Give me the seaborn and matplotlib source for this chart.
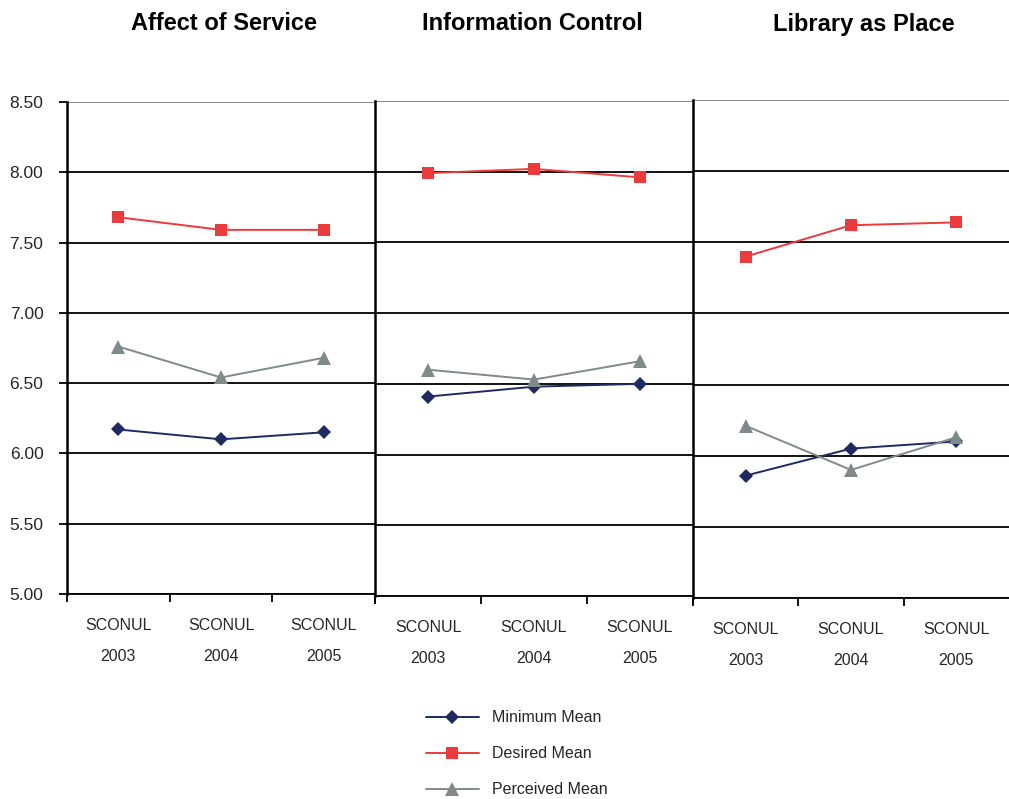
import matplotlib
matplotlib.use('Agg')
import matplotlib.pyplot as plt
import pandas as pd
import seaborn as sns

# chart data
panels = ['Affect of Service', 'Information Control', 'Library as Place']
years = ['SCONUL\n2003', 'SCONUL\n2004', 'SCONUL\n2005']
series = ['Minimum Mean', 'Desired Mean', 'Perceived Mean']

minimum_mean = [[6.17, 6.10, 6.15], [6.41, 6.48, 6.50], [5.86, 6.05, 6.10]]
desired_mean = [[7.68, 7.59, 7.59], [7.99, 8.02, 7.96], [7.40, 7.62, 7.64]]
perceived_mean = [[6.76, 6.54, 6.68], [6.60, 6.53, 6.66], [6.21, 5.90, 6.13]]

y_ticks = [5.0, 5.5, 6.0, 6.5, 7.0, 7.5, 8.0, 8.5]

sns.set_style('white')
plt.rcParams['font.family'] = ['Liberation Sans', 'DejaVu Sans']

colors = {'Minimum Mean': '#1f2a63', 'Desired Mean': '#ee3a3a', 'Perceived Mean': '#808a8a'}
markers = {'Minimum Mean': 'D', 'Desired Mean': 's', 'Perceived Mean': '^'}
msizes = {'Minimum Mean': 7.5, 'Desired Mean': 8, 'Perceived Mean': 9.5}

fig = plt.figure(figsize=(10.09, 7.99), dpi=100)
boxes = [[0.0664, 0.2566, 0.3053, 0.6158],
         [0.3717, 0.2541, 0.3151, 0.6195],
         [0.6868, 0.2516, 0.3132, 0.6232]]
title_x = [224, 532, 864]

rows = []
for i, p in enumerate(panels):
    for j, y in enumerate(years):
        rows.append([p, j, 'Minimum Mean', minimum_mean[i][j]])
        rows.append([p, j, 'Desired Mean', desired_mean[i][j]])
        rows.append([p, j, 'Perceived Mean', perceived_mean[i][j]])
df = pd.DataFrame(rows, columns=['panel', 'pos', 'series', 'value'])

handles = []
for i, p in enumerate(panels):
    ax = fig.add_axes(boxes[i])
    d = df[df.panel == p]
    # gridlines
    for t in y_ticks:
        ax.axhline(t, color='#7f7f7f' if t == 8.5 else 'black', lw=1.3, zorder=1)
    for s in series:
        ds = d[d.series == s]
        sns.lineplot(x=ds.pos, y=ds.value, ax=ax, color=colors[s], marker=markers[s],
                     markersize=msizes[s], markeredgewidth=0, lw=1.4, label=s, zorder=3)
    ax.set_xlim(-0.5, 2.5)
    ax.set_ylim(5.0, 8.5)
    ax.set_yticks(y_ticks)
    ax.set_xticks([-0.5, 0.5, 1.5, 2.5] if i < 2 else [-0.5, 0.5, 1.5], minor=False)
    ax.set_xticklabels([])
    ax.set_xticks([0, 1, 2], minor=True)
    ax.set_xticklabels(years, minor=True, fontsize=11.5, linespacing=2.35)
    ax.tick_params(axis='x', which='major', direction='out', length=6, width=1.3, color='black', bottom=True)
    ax.tick_params(axis='x', which='minor', length=0, pad=17)
    if i == 0:
        ax.set_yticklabels(['%.2f' % t for t in y_ticks], fontsize=12.5)
        ax.tick_params(axis='y', direction='out', length=6, width=1.3, color='black', left=True, pad=11)
    else:
        ax.set_yticklabels([])
        ax.tick_params(axis='y', length=0)
    ax.set_xlabel('')
    ax.set_ylabel('')
    for sp in ['top', 'right']:
        ax.spines[sp].set_visible(False)
    ax.spines['left'].set_color('black')
    ax.spines['left'].set_linewidth(1.8)
    ax.spines['bottom'].set_color('black')
    ax.spines['bottom'].set_linewidth(1.3)
    fig.text(title_x[i] / 1009, 1 - 24 / 799, p, fontsize=17, fontweight='bold',
             ha='center', va='center', color='black')
    if i == 0:
        handles, labels = ax.get_legend_handles_labels()
    ax.get_legend().remove()

fig.legend(handles, series, loc='lower center', bbox_to_anchor=(0.512, -0.016), ncol=1,
           frameon=False, fontsize=11.5, handlelength=3.3, labelspacing=1.32)

fig.savefig('out.png', dpi=100)
